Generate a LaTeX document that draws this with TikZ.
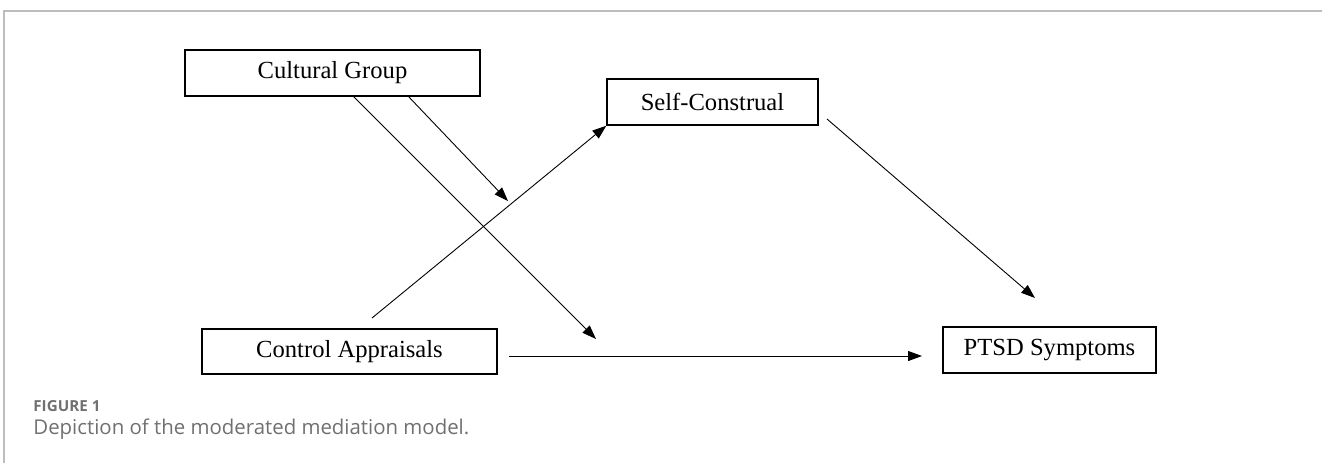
\documentclass[tikz,border=0pt]{standalone}
\usepackage{fontspec}
\setmainfont{Liberation Serif}
\newfontfamily\capfont{Open Sans}
\usetikzlibrary{shapes,arrows.meta,positioning,calc}
\usepackage{xcolor}
\definecolor{framegray}{HTML}{BDBDBD}
\definecolor{capgray}{HTML}{707070}

\begin{document}
\begin{tikzpicture}[x=0.5pt, y=-0.5pt,
    varbox/.style={draw, line width=0.7pt, rectangle, font=\fontsize{12.3}{14}\selectfont, inner sep=0pt},
    path/.style={line width=0.45pt, -{Triangle[length=7pt, width=5pt]}}]
                    \useasboundingbox (0,0) rectangle (1322,463);
                    % Frame of the figure
                    \draw[framegray, line width=1pt] (4,463) -- (4,11) -- (1322,11);
                    % Variables
                    \node[varbox, minimum width=147.5pt, minimum height=23pt] (cult) at (332.5,73) {Cultural Group};
                    \node[varbox, minimum width=105.5pt, minimum height=23pt] (self) at (712.5,102) {Self-Construal};
                    \node[varbox, minimum width=147.5pt, minimum height=22.5pt] (ctrl) at (349.5,351.5) {Control Appraisals};
                    \node[varbox, minimum width=106.5pt, minimum height=23pt] (ptsd) at (1049.5,350) {PTSD Symptoms};
                    % Free ends of the paths
                    \coordinate (cultA) at (353,96);
                    \coordinate (cultB) at (408,96);
                    \coordinate (modDirect) at (596,339);
                    \coordinate (modPathA) at (508,201);
                    \coordinate (ctrlTop) at (372,318);
                    \coordinate (selfOut) at (827,119);
                    \coordinate (ptsdIn) at (1035,298);
                    \coordinate (ctrlOut) at (509,356);
                    \coordinate (ptsdLeft) at (922,356);
                    % Paths
                    \draw[path] (ctrlTop) -- (self.south west);
                    \draw[path] (selfOut) -- (ptsdIn);
                    \draw[path] (ctrlOut) -- (ptsdLeft);
                    \draw[path] (cultA) -- (modDirect);
                    \draw[path] (cultB) -- (modPathA);
                    % Caption
                    \node[anchor=base west, inner sep=0pt, text=capgray, font=\capfont\fontsize{7.6}{9}\selectfont\bfseries] (figlabel) at (33,411) {FIGURE 1};
                    \node[anchor=base west, inner sep=0pt, text=capgray, font=\capfont\fontsize{10.2}{12}\selectfont] (figcaption) at (33,434) {Depiction of the moderated mediation model.};
                \end{tikzpicture}
\end{document}
